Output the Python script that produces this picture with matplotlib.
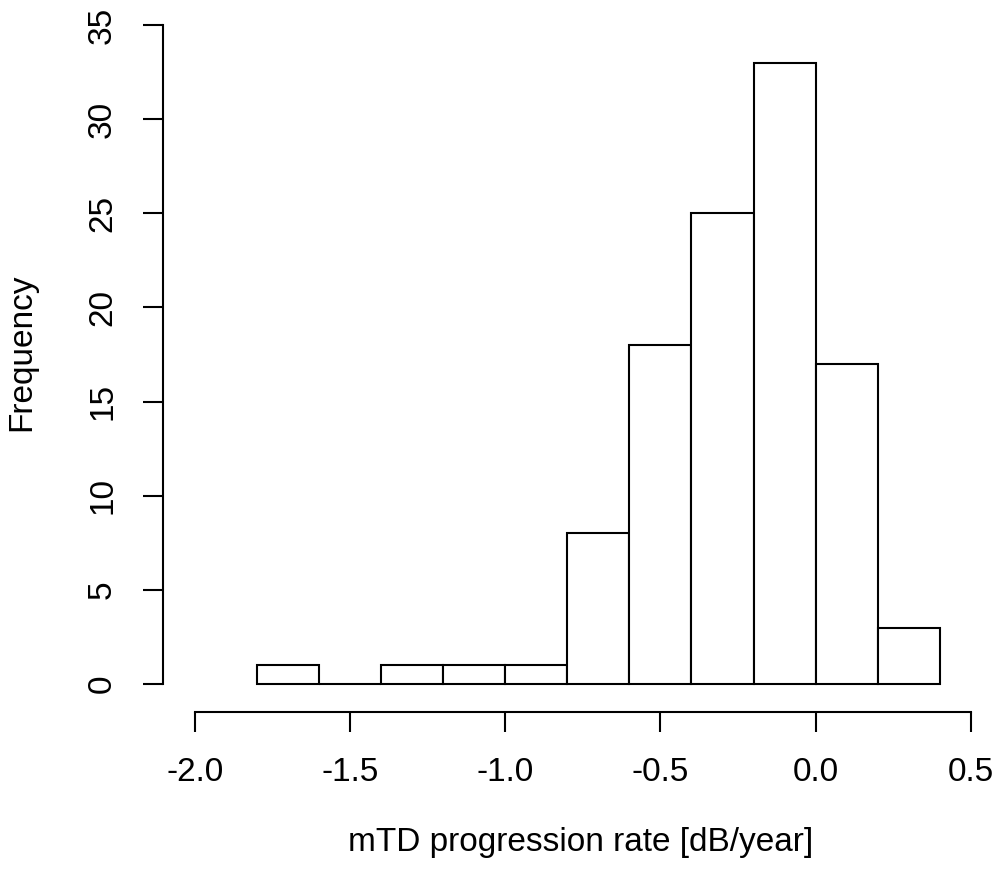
import matplotlib.pyplot as plt
import numpy as np

plt.rcParams['font.family'] = ['Liberation Sans', 'DejaVu Sans']

# bin edges and counts
bin_edges = [-1.8, -1.6, -1.4, -1.2, -1.0, -0.8, -0.6, -0.4, -0.2, 0.0, 0.2, 0.4]
counts = [1, 0, 1, 1, 1, 8, 18, 25, 33, 17, 3]
xticks = [-2.0, -1.5, -1.0, -0.5, 0.0, 0.5]
yticks = [0, 5, 10, 15, 20, 25, 30, 35]

fig = plt.figure(figsize=(10, 8.84), dpi=100)
W, H = 1000, 884
left, right, top, bottom = 163, 990, 25, 712
ax = fig.add_axes([left / W, 1 - bottom / H, (right - left) / W, (bottom - top) / H])

lefts = np.array(bin_edges[:-1])
widths = np.diff(bin_edges)
ax.bar(lefts, counts, width=widths, align='edge', color='white',
       edgecolor='black', linewidth=1.5)

# place data so that -2.0 / 0.5 and 0 / 35 land where they do in the picture
px_per_x = (970.7 - 195) / 2.5
px_per_y = (684 - 25) / 35.0
ax.set_xlim(-2.0 - (195 - left) / px_per_x, -2.0 + (right - 195) / px_per_x)
ax.set_ylim(-(bottom - 684) / px_per_y, 35 + (25 - top) / px_per_y)

for s in ['top', 'right']:
    ax.spines[s].set_visible(False)
ax.spines['left'].set_bounds(0, 35)
ax.spines['bottom'].set_bounds(-2.0, 0.5)
for s in ['left', 'bottom']:
    ax.spines[s].set_linewidth(1.5)

ax.set_xticks(xticks)
ax.set_xticklabels([f'{t:.1f}' for t in xticks])
ax.set_yticks(yticks)
ax.set_yticklabels([str(t) for t in yticks], rotation=90, va='center')
ax.tick_params(axis='both', length=14.4, width=1.5, labelsize=24, pad=18,
               colors='black')

ax.set_xlabel('mTD progression rate [dB/year]', fontsize=24, labelpad=28)
ax.set_ylabel('Frequency', fontsize=24, labelpad=36)
ax.xaxis.label.set_x((581 - left) / (right - left))
ax.yaxis.label.set_y((bottom - 352) / (bottom - top))

fig.savefig('out.png', dpi=100)
